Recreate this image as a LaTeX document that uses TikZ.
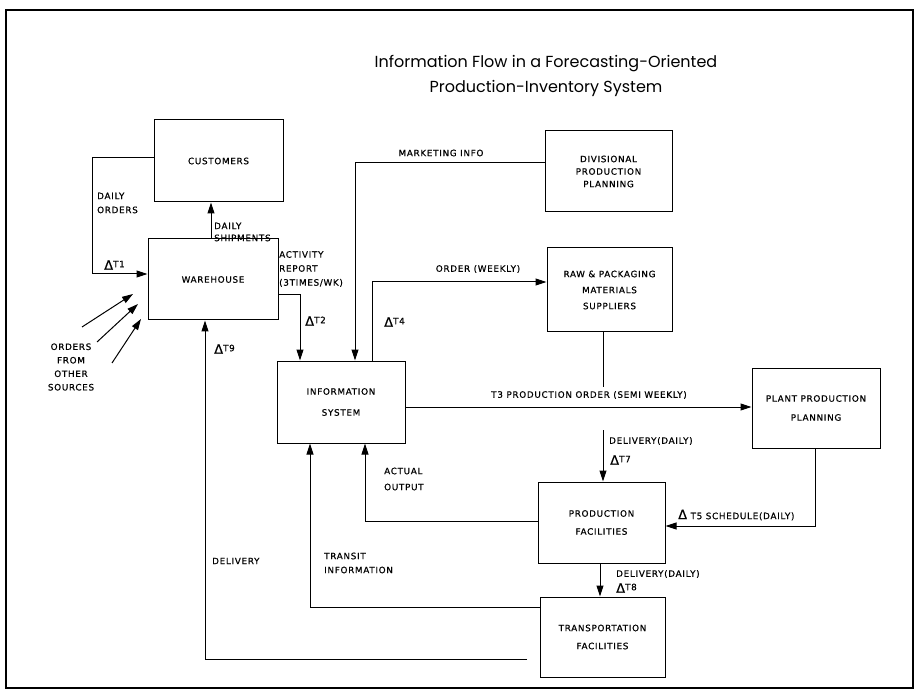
\documentclass[tikz,border=0pt]{standalone}
\usepackage{fontspec}
\setmainfont{DejaVu Sans}
\newfontfamily\labfont[LetterSpace=8,FakeBold=0.6]{DejaVu Sans}
\newfontfamily\ttlfont{Poppins}
\usetikzlibrary{arrows.meta}
\newcommand{\dlt}{{\fontsize{13}{13}\selectfont Δ}}
\newcommand{\tsub}[1]{\raisebox{2.5pt}{#1}}
\begin{document}
\begin{tikzpicture}[x=1pt,y=-1pt,
  box/.style={draw,line width=1pt,inner sep=0pt,align=center,font=\labfont\fontsize{8.8}{17}\selectfont},
  lab/.style={inner sep=0pt,align=left,font=\labfont\fontsize{8.8}{14}\selectfont},
  ln/.style={line width=1pt},
  arr/.style={line width=1pt,-{Triangle[length=11pt,width=7pt]}},
  ttl/.style={inner sep=0pt,font=\ttlfont\fontsize{16}{18}\selectfont}]
\useasboundingbox (0,0) rectangle (923,700);
\draw[line width=1.8pt] (6,10) rectangle (913,688);

\node[ttl] (t1) at (546,64) {Information Flow in a Forecasting-Oriented};
\node[ttl] (t2) at (546,88) {Production-Inventory System};

% boxes
\node[box,minimum width=129pt,minimum height=82pt] (cust) at (218.5,161) {CUSTOMERS};
\node[box,minimum width=130pt,minimum height=81pt] (ware) at (213,279.5) {WAREHOUSE};
\node[box,minimum width=127pt,minimum height=81pt,font=\labfont\fontsize{8.8}{12.5}\selectfont] (div) at (608.5,171.5) {DIVISIONAL\\PRODUCTION\\PLANNING};
\node[box,minimum width=125pt,minimum height=84pt,font=\labfont\fontsize{8.8}{16}\selectfont] (raw) at (609.5,290) {RAW \& PACKAGING\\MATERIALS\\SUPPLIERS};
\node[box,minimum width=128pt,minimum height=82pt,font=\labfont\fontsize{8.8}{21}\selectfont] (info) at (341,402) {INFORMATION\\SYSTEM};
\node[box,minimum width=128pt,minimum height=80pt,font=\labfont\fontsize{8.8}{19}\selectfont] (plant) at (816,408) {PLANT PRODUCTION\\PLANNING};
\node[box,minimum width=127pt,minimum height=81pt,font=\labfont\fontsize{8.8}{18}\selectfont] (prod) at (601.5,522.5) {PRODUCTION\\FACILITIES};
\node[box,minimum width=125pt,minimum height=80pt,font=\labfont\fontsize{8.8}{18}\selectfont] (trans) at (602.5,637) {TRANSPORTATION\\FACILITIES};

% coordinates
\coordinate (c1) at (92,158);
\coordinate (c2) at (92,274);
\coordinate (c3) at (300,295);
\coordinate (c4) at (355,163);
\coordinate (c5) at (372,282);
\coordinate (g1) at (603,387);
\coordinate (g2) at (603,430);
\coordinate (c6) at (815,526);
\coordinate (c7) at (365,521);
\coordinate (c8) at (310,607);
\coordinate (dl) at (527,659);
\coordinate (c9) at (205,659);
\coordinate (o1s) at (82,327);
\coordinate (o1e) at (133,294);
\coordinate (o2s) at (97,342);
\coordinate (o2e) at (138,304);
\coordinate (o3s) at (112,363);
\coordinate (o3e) at (141,319);

% connectors
\draw[arr] (cust.west |- c1) -- (c1) -- (c2) -- (ware.west |- c2);
\draw[arr] (ware.north -| 211,0) -- (cust.south -| 211,0);
\draw[arr] (ware.east |- c3) -- (c3) -- (info.north -| c3);
\draw[arr] (div.west |- c4) -- (c4) -- (info.north -| c4);
\draw[arr] (info.north -| c5) -- (c5) -- (raw.west |- c5);
\draw[ln] (raw.south -| g1) -- (g1);
\draw[arr] (g2) -- (prod.north -| g2);
\draw[arr] (info.east |- 0,407) -- (plant.west |- 0,407);
\draw[arr] (plant.south -| c6) -- (c6) -- (prod.east |- c6);
\draw[arr] (prod.west |- c7) -- (c7) -- (info.south -| c7);
\draw[arr] (prod.south -| 600,0) -- (trans.north -| 600,0);
\draw[arr] (trans.west |- c8) -- (c8) -- (info.south -| c8);
\draw[arr] (dl) -- (c9) -- (ware.south -| c9);
\draw[arr] (o1s) -- (o1e);
\draw[arr] (o2s) -- (o2e);
\draw[arr] (o3s) -- (o3e);

% labels
\node[lab,anchor=west] (l1) at (97,203) {DAILY\\ORDERS};
\node[lab,anchor=west] (d1) at (104,265) {\dlt\tsub{T1}};
\node[lab,anchor=west,font=\labfont\fontsize{8.8}{12}\selectfont] (l2) at (214,232) {DAILY\\SHIPMENTS};
\node[lab,anchor=west] (l3) at (279,269) {ACTIVITY\\REPORT\\(3TIMES/WK)};
\node[lab,anchor=west] (d2) at (305,321) {\dlt\tsub{T2}};
\node[lab] (l4) at (441,153) {MARKETING INFO};
\node[lab] (l5) at (478,269) {ORDER (WEEKLY)};
\node[lab,anchor=west] (d4) at (384,322) {\dlt\tsub{T4}};
\node[lab] (l6) at (589,395) {T3 PRODUCTION ORDER (SEMI WEEKLY)};
\node[lab,anchor=west] (l7) at (609,441) {DELIVERY(DAILY)};
\node[lab,anchor=west] (d7) at (610,460) {\dlt\tsub{T7}};
\node[lab,anchor=west] (l8) at (678,515) {\dlt\ T5 SCHEDULE(DAILY)};
\node[lab,anchor=west,font=\labfont\fontsize{8.8}{16}\selectfont] (l9) at (384,479) {ACTUAL\\OUTPUT};
\node[lab,anchor=west] (l10) at (616,574) {DELIVERY(DAILY)};
\node[lab,anchor=west] (d8) at (616,588) {\dlt\tsub{T8}};
\node[lab,anchor=west] (l11) at (324,563) {TRANSIT\\INFORMATION};
\node[lab,anchor=west] (l12) at (212,561) {DELIVERY};
\node[lab,anchor=west] (d9) at (214,349) {\dlt\tsub{T9}};
\node[lab,align=center,font=\labfont\fontsize{8.8}{13.5}\selectfont] (l13) at (71,367) {ORDERS\\FROM\\OTHER\\SOURCES};
\end{tikzpicture}
\end{document}
